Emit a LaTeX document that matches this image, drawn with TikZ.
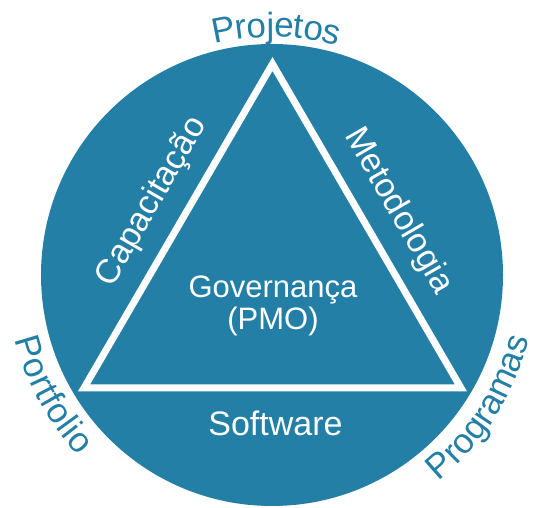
\documentclass[tikz,border=0pt]{standalone}
\usepackage{fontspec}
\setmainfont{Liberation Sans}
\usetikzlibrary{decorations.text}
\definecolor{hub}{RGB}{35,127,166}

\begin{document}
\begin{tikzpicture}[x=1pt,y=1pt,
    inlabel/.style={text=white,inner sep=0pt,font=\fontsize{34}{34}\selectfont},
    arctext/.style={decorate,decoration={text effects along path,text={#1},
        text effects/.cd,text along path,fit text to path,
        characters={text=hub,font=\fontsize{35}{35}\selectfont}}}]
    \def\R{231}%圆半径
    \def\Rt{238}%上方文字半径
    \def\Rb{265}%下方文字半径
    \useasboundingbox (0,0) rectangle (535,508);
    \coordinate (O) at (272,233); %圆心
    \fill[hub] (O) circle (\R);
    \coordinate (top) at (272.5,444); %三角形顶点
    \coordinate (bl) at (84,120);
    \coordinate (br) at (461,120);
    \draw[white,line width=7pt] (top)--(bl)--(br)--cycle;
    \node[inlabel,font=\fontsize{31}{32}\selectfont,align=center] (gov) at (273,202) {Governança\\(PMO)};
    \node[inlabel,anchor=base] (soft) at (275.5,72) {Software};
    \node[inlabel,rotate=60] (cap) at (152,306) {Capacitação};
    \node[inlabel,rotate=-60] (met) at (398,297) {Metodologia};
    %圆外文字
    \path[arctext=Projetos] ([shift={(104:\Rt)}]O) arc[start angle=104,end angle=74,radius=\Rt];
    \path[arctext=Portfolio] ([shift={(194:\Rb)}]O) arc[start angle=194,end angle=223,radius=\Rb];
    \path[arctext=Programas] ([shift={(309:\Rb)}]O) arc[start angle=309,end angle=346,radius=\Rb];
\end{tikzpicture}
\end{document}
